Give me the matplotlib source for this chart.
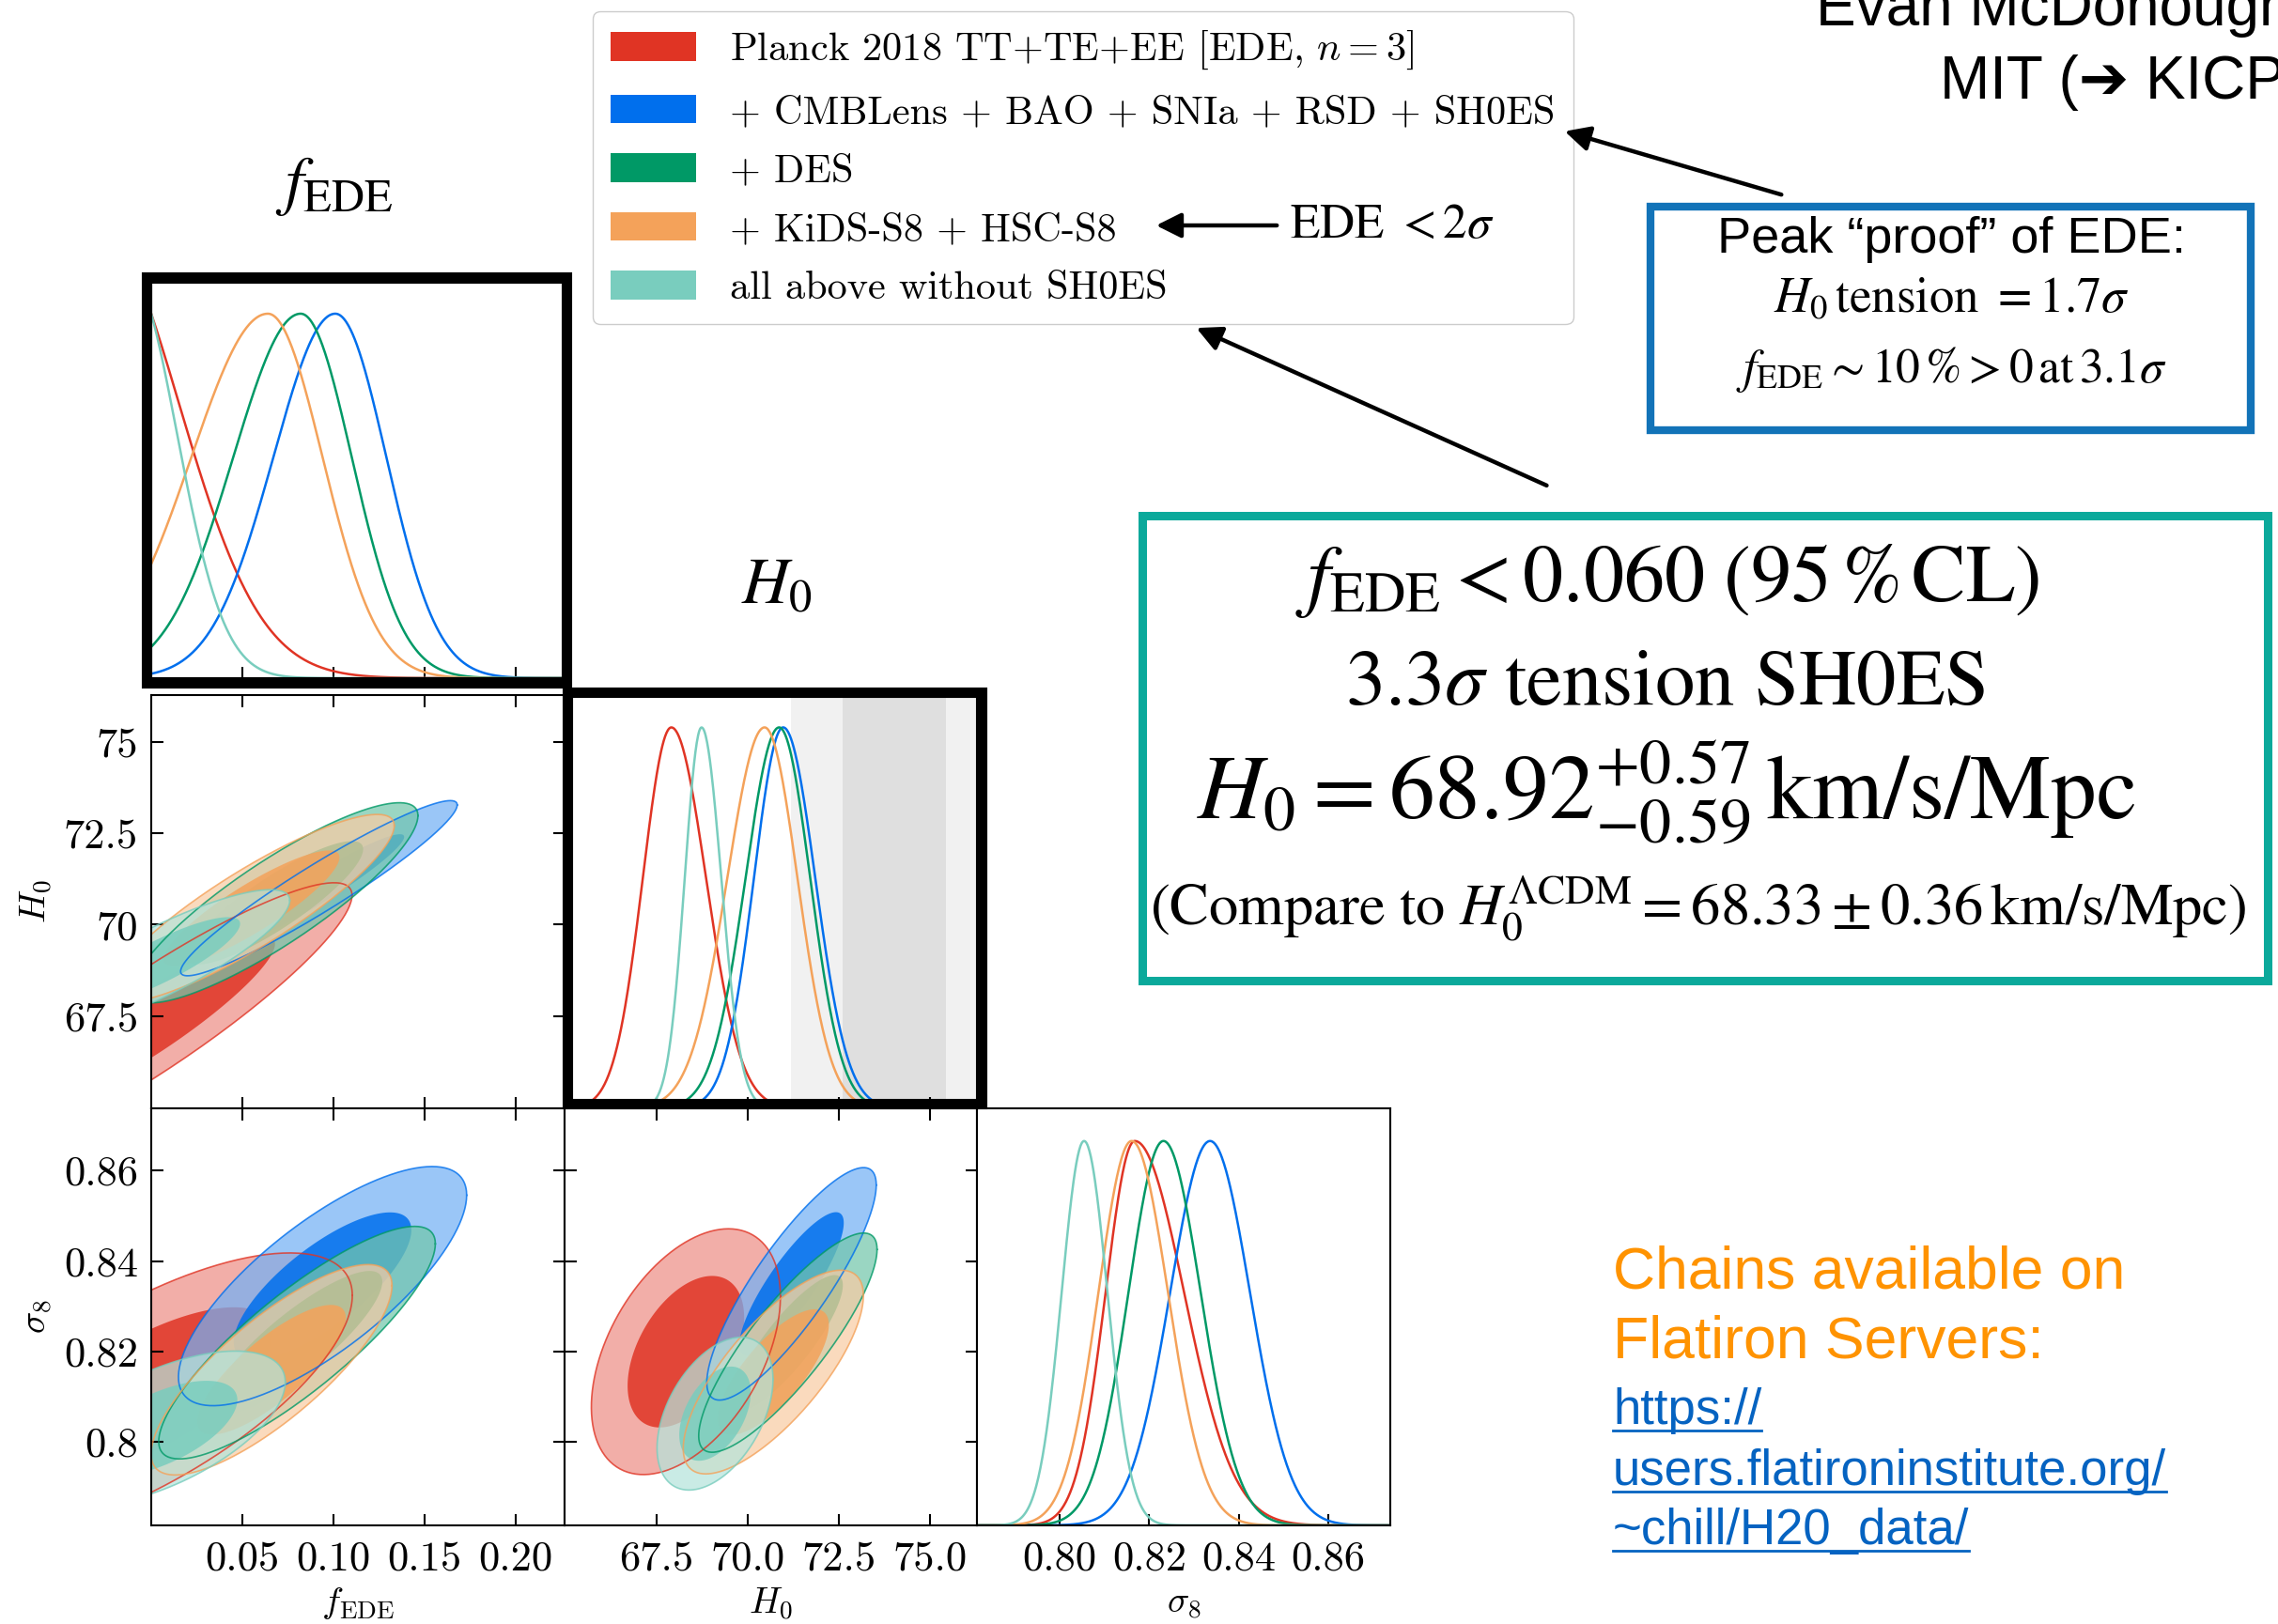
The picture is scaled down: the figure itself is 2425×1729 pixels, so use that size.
import numpy as np
import matplotlib.pyplot as plt
from matplotlib.patches import Patch, Rectangle, FancyArrowPatch
from matplotlib.lines import Line2D

plt.rcParams['mathtext.fontset'] = 'cm'
plt.rcParams['axes.linewidth'] = 1.5

# datasets, drawn bottom layer first
labels = ['Planck 2018 TT+TE+EE [EDE, $n=3$]',
          '+ CMBLens + BAO + SNIa + RSD + SH0ES',
          '+ DES',
          '+ KiDS-S8 + HSC-S8',
          'all above without SH0ES']
colors = ['#E03424', '#006FED', '#009966', '#F4A25A', '#79CDBE']

# 1D marginals: peak position, left width, right width
fede_peak = [-0.030, 0.101, 0.082, 0.064, -0.012]
fede_lo = [0.045, 0.034, 0.037, 0.042, 0.026]
fede_hi = [0.045, 0.028, 0.028, 0.030, 0.026]
h0_peak = [67.90, 70.97, 70.86, 70.46, 68.73]
h0_lo = [0.78, 0.80, 0.92, 1.02, 0.46]
h0_hi = [0.95, 0.88, 0.85, 0.90, 0.54]
s8_peak = [0.8168, 0.8336, 0.8232, 0.8161, 0.8055]
s8_lo = [0.0065, 0.0089, 0.0078, 0.0074, 0.0050]
s8_hi = [0.0110, 0.0089, 0.0083, 0.0081, 0.0052]

# 2D contours: centre, widths, correlation
fh_mean = [(0.000, 67.33), (0.092, 71.00), (0.068, 70.60), (0.055, 70.45), (0.005, 69.00)]
fh_sig = [(0.045, 1.56), (0.031, 0.98), (0.032, 1.12), (0.032, 1.05), (0.029, 0.80)]
fh_rho = [0.91, 0.95, 0.87, 0.88, 0.85]
fs_mean = [(-0.004, 0.8105), (0.094, 0.8345), (0.080, 0.822), (0.066, 0.816), (0.005, 0.803)]
fs_sig = [(0.0467, 0.0128), (0.0323, 0.0108), (0.031, 0.0105), (0.027, 0.0095), (0.028, 0.0070)]
fs_rho = [0.70, 0.76, 0.85, 0.80, 0.60]
hs_mean = [(68.30, 0.8200), (71.20, 0.8350), (71.10, 0.8220), (70.70, 0.8155), (69.10, 0.8063)]
hs_sig = [(1.06, 0.0111), (0.95, 0.0105), (1.00, 0.0099), (1.01, 0.0092), (0.65, 0.0069)]
hs_rho = [0.45, 0.85, 0.85, 0.75, 0.45]

# SH0ES band
sh0es_mean, sh0es_err = 74.03, 1.42

# axis ranges and ticks
fede_lim = (0.0, 0.2268)
h0_lim = (64.97, 76.29)
s8_lim = (0.7816, 0.8738)
fede_ticks = [0.05, 0.10, 0.15, 0.20]
fede_ticklabels = ['0.05', '0.10', '0.15', '0.20']
h0_ticks = [67.5, 70.0, 72.5, 75.0]
h0_xticklabels = ['67.5', '70.0', '72.5', '75.0']
h0_yticklabels = ['67.5', '70', '72.5', '75']
s8_ticks = [0.80, 0.82, 0.84, 0.86]
s8_xticklabels = ['0.80', '0.82', '0.84', '0.86']
s8_yticklabels = ['0.8', '0.82', '0.84', '0.86']

W, H = 2425, 1729
fig = plt.figure(figsize=(W / 100, H / 100), dpi=100)


def fx(x):
    return x / W


def fy(y):
    return 1 - y / H


def add_panel(x0, y0, x1, y1):
    return fig.add_axes([fx(x0), fy(y1), (x1 - x0) / W, (y1 - y0) / H])


def split_gauss(x, peak, lo, hi):
    s = np.where(x < peak, lo, hi)
    return np.exp(-0.5 * ((x - peak) / s) ** 2)


def ellipse(mean, sig, rho, r):
    cov = np.array([[sig[0] ** 2, rho * sig[0] * sig[1]],
                    [rho * sig[0] * sig[1], sig[1] ** 2]])
    L = np.linalg.cholesky(cov)
    t = np.linspace(0, 2 * np.pi, 240)
    pts = L @ np.vstack([np.cos(t), np.sin(t)]) * r
    return pts[0] + mean[0], pts[1] + mean[1]


def lighten(c, f):
    rgb = np.array(plt.matplotlib.colors.to_rgb(c))
    return tuple(1 - f * (1 - rgb))


tick_font = dict(fontfamily='cmr10', fontsize=32)

ax_f = add_panel(161, 301, 601, 722)
ax_fh = add_panel(161, 740, 601, 1180)
ax_h = add_panel(601, 740, 1040, 1180)
ax_fs = add_panel(161, 1180, 601, 1624)
ax_hs = add_panel(601, 1180, 1040, 1624)
ax_s = add_panel(1040, 1180, 1480, 1624)

# 1D panels
ax_h.axvspan(sh0es_mean - 2 * sh0es_err, sh0es_mean + 2 * sh0es_err, color='#f1f1f1', zorder=0, lw=0)
ax_h.axvspan(sh0es_mean - sh0es_err, sh0es_mean + sh0es_err, color='#dfdfdf', zorder=0, lw=0)
for ax, lim, pk, lo, hi in [(ax_f, fede_lim, fede_peak, fede_lo, fede_hi),
                            (ax_h, h0_lim, h0_peak, h0_lo, h0_hi),
                            (ax_s, s8_lim, s8_peak, s8_lo, s8_hi)]:
    x = np.linspace(lim[0], lim[1], 600)
    for i in range(len(colors)):
        y = split_gauss(x, pk[i], lo[i], hi[i])
        ax.plot(x, y / y.max(), color=colors[i], lw=1.8)
    ax.set_xlim(lim)
    ax.set_ylim(0, 1.085)
    ax.set_yticks([])
    ax.tick_params(axis='x', direction='in', length=9, width=1.5, labelbottom=False)

# 2D panels
for ax, mean, sig, rho in [(ax_fh, fh_mean, fh_sig, fh_rho),
                           (ax_fs, fs_mean, fs_sig, fs_rho),
                           (ax_hs, hs_mean, hs_sig, hs_rho)]:
    for i in range(len(colors)):
        xo, yo = ellipse(mean[i], sig[i], rho[i], 2.448)
        xi, yi = ellipse(mean[i], sig[i], rho[i], 1.509)
        ax.fill(xo, yo, color=lighten(colors[i], 0.55), alpha=0.72, lw=0)
        ax.fill(xi, yi, color=colors[i], alpha=0.85, lw=0)
        ax.plot(xo, yo, color=colors[i], lw=1.2, alpha=0.8)
    ax.tick_params(direction='in', length=9, width=1.5, top=True, right=True,
                   labelbottom=False, labelleft=False)

ax_fh.set_xlim(fede_lim)
ax_fh.set_ylim(h0_lim)
ax_fs.set_xlim(fede_lim)
ax_fs.set_ylim(s8_lim)
ax_hs.set_xlim(h0_lim)
ax_hs.set_ylim(s8_lim)

for ax in (ax_f, ax_fh, ax_fs):
    ax.set_xticks(fede_ticks)
for ax in (ax_h, ax_hs):
    ax.set_xticks(h0_ticks)
ax_s.set_xticks(s8_ticks)

ax_fh.set_yticks(h0_ticks, labels=h0_yticklabels, **tick_font)
ax_fh.tick_params(labelleft=True)
ax_fs.set_yticks(s8_ticks, labels=s8_yticklabels, **tick_font)
ax_fs.tick_params(labelleft=True)
ax_hs.set_yticks(s8_ticks)

ax_fs.set_xticks(fede_ticks, labels=fede_ticklabels, **tick_font)
ax_hs.set_xticks(h0_ticks, labels=h0_xticklabels, **tick_font)
ax_s.set_xticks(s8_ticks, labels=s8_xticklabels, **tick_font)
for ax in (ax_fs, ax_hs, ax_s):
    ax.tick_params(axis='x', labelbottom=True, pad=12)
for ax in (ax_fh, ax_fs):
    ax.tick_params(axis='y', pad=10)

ax_fs.set_xlabel(r'$f_{\rm EDE}$', fontsize=28)
ax_hs.set_xlabel(r'$H_0$', fontsize=28)
ax_s.set_xlabel(r'$\sigma_8$', fontsize=28)
for ax in (ax_fs, ax_hs, ax_s):
    ax.xaxis.set_label_coords(0.5, -0.145)
ax_fh.set_ylabel(r'$H_0$', fontsize=28)
ax_fs.set_ylabel(r'$\sigma_8$', fontsize=28)
ax_fh.yaxis.set_label_coords(-0.235, 0.5)
ax_fs.yaxis.set_label_coords(-0.235, 0.5)

# thick highlight boxes drawn on the slide
for x0, y0, x1, y1 in [(156, 295, 603, 727), (604, 737, 1045, 1175)]:
    fig.add_artist(Rectangle((fx(x0), fy(y1)), (x1 - x0) / W, (y1 - y0) / H,
                             transform=fig.transFigure, fill=False, ec='black', lw=8, zorder=10))

# legend
handles = [Patch(facecolor=c, edgecolor='none') for c in colors]
fig.legend(handles, labels, loc='upper left', bbox_to_anchor=(fx(631), fy(12)),
           prop={'family': 'cmr10', 'size': 30.5}, frameon=True, fancybox=True,
           edgecolor='#cccccc', framealpha=1, handlelength=2.15, handleheight=0.72,
           handletextpad=0.85, labelspacing=0.58, borderpad=0.45, borderaxespad=0)

stix = dict(family='STIXGeneral', math_fontfamily='stix')
fig.text(fx(356), fy(198), r'$f_{\rm EDE}$', fontsize=50, ha='center', va='center', **stix)
fig.text(fx(827), fy(626), r'$H_0$', fontsize=50, ha='center', va='center', **stix)

fig.text(fx(1373), fy(240), r'EDE $<2\sigma$', fontsize=37, va='center', zorder=20, **stix)


def arrow(x0, y0, x1, y1, lw=3.2):
    fig.add_artist(FancyArrowPatch((fx(x0), fy(y0)), (fx(x1), fy(y1)), transform=fig.transFigure,
                                   arrowstyle='-|>', mutation_scale=40, lw=lw, color='black', zorder=12))


arrow(1362, 240, 1228, 240)
arrow(1899, 208, 1663, 139)
arrow(1649, 518, 1271, 348)

# author
fig.text(fx(1933), fy(27), 'Evan McDonough', fontsize=46, family='Liberation Sans', va='baseline')
fig.text(fx(2065), fy(105), 'MIT (\u2794 KICP)', fontsize=46,
         family=['Liberation Sans', 'DejaVu Sans'], va='baseline')

# blue box
fig.add_artist(Rectangle((fx(1757), fy(458)), (2396 - 1757) / W, (458 - 220) / H,
                         transform=fig.transFigure, fill=False, ec='#1273B8', lw=6))
fig.text(fx(2077), fy(255), 'Peak \u201cproof\u201d of EDE:', fontsize=39,
         family='Liberation Sans', ha='center', va='center')
fig.text(fx(2077), fy(320), r'$H_0\,$tension $=1.7\sigma$', fontsize=38, ha='center', va='center', **stix)
fig.text(fx(2077), fy(394), r'$f_{\rm EDE}\sim 10\,\%>0\,$at$\,3.1\sigma$', fontsize=37,
         ha='center', va='center', **stix)

# teal box
fig.add_artist(Rectangle((fx(1216), fy(1044)), (2414 - 1216) / W, (1044 - 549) / H,
                         transform=fig.transFigure, fill=False, ec='#0BA99B', lw=6.5))
fig.text(fx(1775), fy(619), r'$f_{\rm EDE} < 0.060\ (95\,\%\,{\rm CL})$', fontsize=62,
         ha='center', va='center', **stix)
fig.text(fx(1773), fy(730), r'$3.3\sigma$ tension SH0ES', fontsize=61, ha='center', va='center', **stix)
fig.text(fx(1774), fy(843), r'$H_0 = 68.92^{+0.57}_{-0.59}\,{\rm km/s/Mpc}$', fontsize=70,
         ha='center', va='center', **stix)
fig.text(fx(1808), fy(967), r'(Compare to $H_0^{\Lambda{\rm CDM}} = 68.33 \pm 0.36\,{\rm km/s/Mpc}$)',
         fontsize=45, ha='center', va='center', **stix)

# chains note
fig.text(fx(1717), fy(1372), 'Chains available on', fontsize=45, color='#FF9300',
         family='Liberation Sans', va='baseline')
fig.text(fx(1717), fy(1446), 'Flatiron Servers:', fontsize=45, color='#FF9300',
         family='Liberation Sans', va='baseline')
link_color = '#0563C1'
links = []
for txt, yb in [('https://', 1516), ('users.flatironinstitute.org/', 1581), ('~chill/H20_data/', 1644)]:
    t = fig.text(fx(1717), fy(yb), txt, fontsize=38, color=link_color,
                 family='Liberation Sans', va='baseline')
    links.append((t, yb))

fig.canvas.draw()
renderer = fig.canvas.get_renderer()
for t, yb in links:
    bb = t.get_window_extent(renderer)
    fig.add_artist(Line2D([bb.x0 / W, bb.x1 / W], [fy(yb + 7), fy(yb + 7)],
                          transform=fig.transFigure, color=link_color, lw=2))

fig.savefig('out.png', dpi=100)
